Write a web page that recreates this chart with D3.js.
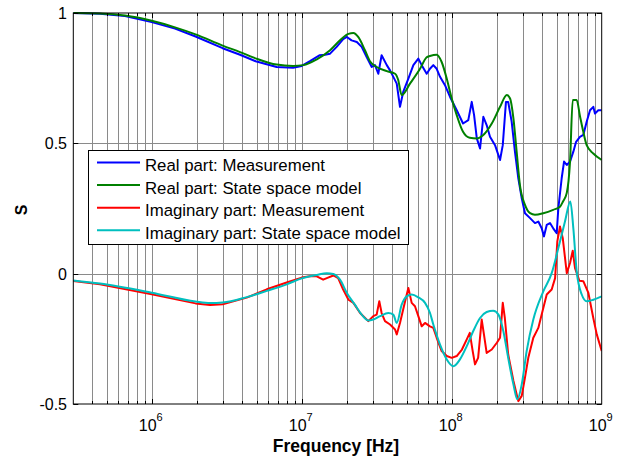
<!DOCTYPE html>
<html><head><meta charset="utf-8">
<script src="https://cdn.jsdelivr.net/npm/d3@7"></script>
<style>
body{margin:0;background:#fff;}
svg{display:block;font-family:Arial,"Liberation Sans",sans-serif;}
</style>
</head><body>
<svg id="chart" width="628" height="457"></svg>
<script>
// ---- data ----
const freqRealMeas = [3.0e5,4.52e5,6.64e5,1e6,1.43e6,1.96e6,2.97e6,3.88e6,4.93e6,6.81e6,8.75e6,1e7,1.135e7,1.32e7,1.43e7,1.545e7,1.71e7,1.89e7,2.0e7,2.15e7,2.33e7,2.51e7,2.71e7,2.93e7,3.08e7,3.24e7,3.41e7,3.69e7,3.88e7,4.30e7,4.52e7,4.75e7,5.14e7,5.55e7,5.99e7,6.31e7,6.81e7,7.16e7,7.54e7,7.94e7,8.36e7,9.02e7,9.75e7,1.08e8,1.19e8,1.29e8,1.36e8,1.41e8,1.47e8,1.545e8,1.625e8,1.71e8,1.80e8,1.945e8,2.10e8,2.19e8,2.30e8,2.38e8,2.51e8,2.64e8,2.78e8,2.93e8,3.08e8,3.33e8,3.59e8,3.78e8,3.98e8,4.12e8,4.30e8,4.52e8,4.75e8,5.01e8,5.14e8,5.41e8,5.61e8,5.85e8,6.15e8,6.47e8,6.75e8,7.16e8,7.54e8,7.94e8,8.36e8,8.79e8,9.02e8,9.49e8,1e9];
const realMeasurement = [1.0,0.997,0.988,0.965,0.94,0.91,0.865,0.84,0.815,0.793,0.79,0.797,0.815,0.838,0.84,0.844,0.87,0.90,0.908,0.895,0.889,0.87,0.831,0.793,0.80,0.767,0.838,0.80,0.78,0.729,0.64,0.697,0.748,0.80,0.825,0.80,0.767,0.786,0.80,0.786,0.755,0.723,0.678,0.627,0.576,0.589,0.659,0.608,0.519,0.48,0.602,0.57,0.525,0.493,0.436,0.493,0.659,0.659,0.583,0.468,0.366,0.289,0.232,0.213,0.194,0.20,0.174,0.143,0.187,0.194,0.174,0.155,0.251,0.366,0.43,0.417,0.43,0.468,0.506,0.525,0.532,0.583,0.627,0.64,0.614,0.627,0.627];

const freqRealModel = [3e5,4.52e5,6.64e5,1e6,1.43e6,1.96e6,2.97e6,3.88e6,4.93e6,6.81e6,8.75e6,1.026e7,1.26e7,1.545e7,1.80e7,2.05e7,2.21e7,2.38e7,2.64e7,2.85e7,3.16e7,3.69e7,4.19e7,4.39e7,4.64e7,5.27e7,6.15e7,6.81e7,7.16e7,7.94e7,8.57e7,9.27e7,1e8,1.08e8,1.19e8,1.32e8,1.47e8,1.625e8,1.85e8,2.10e8,2.33e8,2.45e8,2.58e8,2.71e8,2.85e8,3.08e8,3.33e8,3.59e8,4.08e8,4.75e8,5.27e8,5.52e8,5.85e8,6.15e8,6.41e8,6.81e8,7.16e8,7.54e8,7.94e8,8.79e8,1e9];
const realModel = [1.0,0.998,0.99,0.97,0.945,0.918,0.875,0.85,0.826,0.802,0.797,0.80,0.822,0.857,0.895,0.92,0.923,0.908,0.857,0.815,0.793,0.777,0.767,0.745,0.685,0.729,0.786,0.83,0.835,0.84,0.812,0.748,0.672,0.608,0.544,0.521,0.519,0.532,0.576,0.64,0.685,0.672,0.595,0.468,0.34,0.264,0.232,0.226,0.232,0.245,0.257,0.277,0.31,0.43,0.666,0.666,0.605,0.544,0.493,0.461,0.436];

const freqImagMeas = [3e5,4.52e5,1e6,1.96e6,2.45e6,2.97e6,4.30e6,5.85e6,7.94e6,1e7,1.135e7,1.26e7,1.39e7,1.47e7,1.625e7,1.75e7,1.89e7,2.05e7,2.21e7,2.45e7,2.78e7,3.0e7,3.16e7,3.29e7,3.41e7,3.59e7,3.88e7,4.19e7,4.30e7,4.52e7,4.89e7,5.14e7,5.41e7,5.69e7,5.99e7,6.31e7,6.64e7,7.16e7,7.54e7,7.94e7,8.57e7,9.27e7,1e8,1.08e8,1.17e8,1.26e8,1.32e8,1.38e8,1.43e8,1.50e8,1.585e8,1.64e8,1.71e8,1.85e8,2.0e8,2.10e8,2.19e8,2.26e8,2.38e8,2.58e8,2.78e8,2.93e8,3.08e8,3.24e8,3.50e8,3.78e8,4.08e8,4.30e8,4.64e8,4.89e8,5.06e8,5.27e8,5.50e8,5.85e8,6.15e8,6.41e8,6.64e8,7.10e8,7.54e8,8.15e8,8.79e8,9.27e8,1e9];
const imagMeasurement = [-0.028,-0.041,-0.079,-0.114,-0.12,-0.117,-0.092,-0.06,-0.034,-0.015,-0.01,-0.01,-0.023,-0.017,-0.007,-0.017,-0.061,-0.10,-0.112,-0.151,-0.182,-0.163,-0.157,-0.106,-0.151,-0.182,-0.195,-0.214,-0.233,-0.189,-0.106,-0.055,-0.112,-0.125,-0.163,-0.202,-0.189,-0.202,-0.208,-0.246,-0.297,-0.316,-0.323,-0.316,-0.291,-0.252,-0.227,-0.297,-0.348,-0.323,-0.176,-0.233,-0.304,-0.291,-0.265,-0.246,-0.112,-0.17,-0.31,-0.412,-0.489,-0.469,-0.399,-0.323,-0.246,-0.208,-0.132,-0.08,-0.061,-0.017,0.124,0.181,0.136,0.002,0.041,0.088,0.021,-0.027,-0.029,-0.074,-0.17,-0.233,-0.297];

const freqImagModel = [3e5,4.52e5,1e6,1.96e6,2.45e6,2.97e6,4.30e6,5.85e6,7.94e6,1e7,1.26e7,1.47e7,1.625e7,1.80e7,2.0e7,2.26e7,2.51e7,2.78e7,3.0e7,3.33e7,3.78e7,4.08e7,4.30e7,4.64e7,5.01e7,5.41e7,5.99e7,6.64e7,7.16e7,7.54e7,8.36e7,9.27e7,1.026e8,1.135e8,1.26e8,1.39e8,1.545e8,1.71e8,1.89e8,2.05e8,2.21e8,2.38e8,2.58e8,2.74e8,2.93e8,3.16e8,3.50e8,4.08e8,4.64e8,5.14e8,5.69e8,6.18e8,6.47e8,6.81e8,7.36e8,7.94e8,8.79e8,1e9];
const imagModel = [-0.026,-0.038,-0.073,-0.107,-0.113,-0.111,-0.09,-0.066,-0.041,-0.018,-0.005,0.002,-0.001,-0.023,-0.074,-0.119,-0.157,-0.18,-0.176,-0.163,-0.151,-0.157,-0.189,-0.119,-0.087,-0.08,-0.091,-0.112,-0.15,-0.195,-0.272,-0.329,-0.355,-0.329,-0.278,-0.221,-0.17,-0.147,-0.142,-0.157,-0.221,-0.323,-0.425,-0.482,-0.425,-0.297,-0.176,-0.068,0.002,0.098,0.20,0.277,0.174,0.009,-0.08,-0.106,-0.10,-0.087];

const seriesNames = ["Real part: Measurement","Real part: State space model","Imaginary part: Measurement","Imaginary part: State space model"];
const seriesColors = ["#0000ff","#008000","#ff0000","#00bfbf"];
const yTicks = [-0.5, 0, 0.5, 1];
const yTickLabels = ["-0.5","0","0.5","1"];
const xMajorTicks = [1e6, 1e7, 1e8, 1e9];
const xMajorExponents = ["6","7","8","9"];
const xDomain = [3e5, 1e9];
const yDomain = [-0.5, 1];
const xLabel = "Frequency [Hz]";
const yLabel = "S";

// ---- drawing ----
const svg = d3.select("#chart");
const L = 73.3, R = 601.7, T = 13, B = 404;
const x = d3.scaleLog().domain(xDomain).range([L, R]);
const y = d3.scaleLinear().domain(yDomain).range([B, T]);

svg.append("rect").attr("width",628).attr("height",457).attr("fill","#fff");

const allXTicks = [];
for (let e = 5; e <= 9; e++) for (let k = 1; k <= 9; k++) {
  const v = k * Math.pow(10, e);
  if (v > xDomain[0] * 1.0001 && v < xDomain[1] * 0.9999) allXTicks.push({v, major: k === 1});
}

// grid
const gridColor = "#8a8a8a";
const grid = svg.append("g");
grid.selectAll("line.vx").data(allXTicks).join("line")
  .attr("x1", d => Math.round(x(d.v)) + 0.5).attr("x2", d => Math.round(x(d.v)) + 0.5)
  .attr("y1", T).attr("y2", B)
  .attr("stroke", gridColor).attr("stroke-width", 1);
grid.selectAll("line.hy").data(yTicks.filter(v => v > yDomain[0] && v < yDomain[1])).join("line")
  .attr("x1", L).attr("x2", R)
  .attr("y1", d => Math.round(y(d)) + 0.5).attr("y2", d => Math.round(y(d)) + 0.5)
  .attr("stroke", gridColor).attr("stroke-width", 1);

svg.append("clipPath").attr("id","clip").append("rect")
  .attr("x", L).attr("y", T - 2).attr("width", R - L).attr("height", B - T + 4);

const plot = svg.append("g").attr("clip-path","url(#clip)");
const seriesData = [
  {f: freqRealMeas, v: realMeasurement, smooth: false},
  {f: freqRealModel, v: realModel, smooth: true},
  {f: freqImagMeas, v: imagMeasurement, smooth: false},
  {f: freqImagModel, v: imagModel, smooth: true}
];
seriesData.forEach((s, i) => {
  const n = Math.min(s.f.length, s.v.length);
  const pts = d3.range(n).map(j => [s.f[j], s.v[j]]);
  const line = d3.line().x(d => x(d[0])).y(d => y(d[1]))
    .curve(s.smooth ? d3.curveMonotoneX : d3.curveLinear);
  plot.append("path").datum(pts).attr("d", line)
    .attr("fill","none").attr("stroke", seriesColors[i])
    .attr("stroke-width", 2).attr("stroke-linejoin","round");
});

// axes box and ticks
const ax = svg.append("g").attr("stroke","#000").attr("fill","none");
ax.append("rect").attr("x", L).attr("y", T).attr("width", R - L).attr("height", B - T).attr("stroke-width", 1);
allXTicks.concat(xMajorTicks.filter(v => v < xDomain[1]).map(v => ({v, major: true}))).forEach(d => {
  const px = Math.round(x(d.v)) + 0.5;
  const len = d.major ? 5 : 3;
  ax.append("line").attr("x1", px).attr("x2", px).attr("y1", B).attr("y2", B - len);
  ax.append("line").attr("x1", px).attr("x2", px).attr("y1", T).attr("y2", T + len);
});
yTicks.forEach(v => {
  const py = Math.round(y(v)) + 0.5;
  ax.append("line").attr("x1", L).attr("x2", L + 5).attr("y1", py).attr("y2", py);
  ax.append("line").attr("x1", R).attr("x2", R - 5).attr("y1", py).attr("y2", py);
});

svg.selectAll("text.yt").data(yTicks).join("text")
  .attr("x", 67).attr("y", d => y(d) + 6)
  .attr("text-anchor","end").attr("font-size", 16).attr("fill","#000")
  .text((d, i) => yTickLabels[i]);

xMajorTicks.forEach((v, i) => {
  const t = svg.append("text").attr("x", x(v) - 1).attr("y", 431)
    .attr("text-anchor","middle").attr("font-size", 16).attr("fill","#000");
  t.append("tspan").text("10");
  t.append("tspan").attr("dy", -10).attr("font-size", 11).text(xMajorExponents[i]);
});

svg.append("text").attr("x", 336).attr("y", 452).attr("text-anchor","middle")
  .attr("font-size", 17.5).attr("font-weight","bold").text(xLabel);
svg.append("text").attr("transform","translate(27,210) rotate(-90)").attr("text-anchor","middle")
  .attr("font-size", 16).attr("font-weight","bold").text(yLabel);

const lg = svg.append("g");
lg.append("rect").attr("x", 88.5).attr("y", 150.5).attr("width", 320).attr("height", 94)
  .attr("fill","#fff").attr("stroke","#000").attr("stroke-width",1);
seriesNames.forEach((name, i) => {
  const cy = 162.5 + i * 22.6;
  lg.append("line").attr("x1", 97).attr("x2", 140).attr("y1", cy).attr("y2", cy)
    .attr("stroke", seriesColors[i]).attr("stroke-width", 2);
  lg.append("text").attr("x", 145).attr("y", cy + 8.5).attr("font-size", 16.8).attr("fill","#000").text(name);
});
</script>
</body></html>
